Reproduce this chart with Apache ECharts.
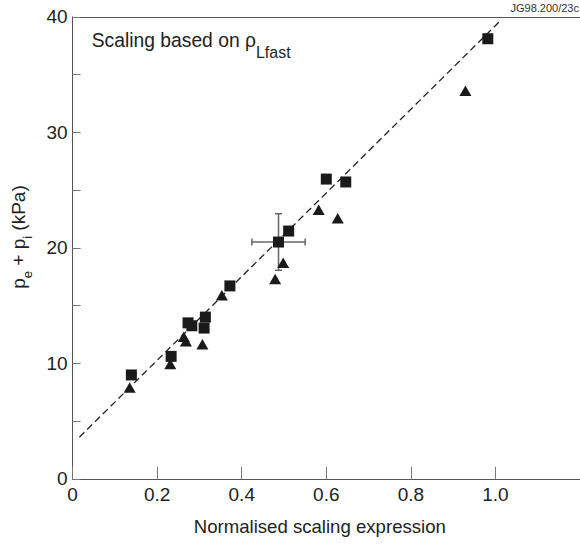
<!DOCTYPE html>
<html>
<head>
<meta charset="utf-8">
<script src="https://cdn.jsdelivr.net/npm/echarts@6/dist/echarts.min.js"></script>
<style>
html,body{margin:0;padding:0;background:#fff;}
#chart{width:580px;height:544px;}
</style>
</head>
<body>
<div id="chart"></div>
<script>
// ---- data ----
const squareX = [0.139, 0.233, 0.273, 0.282, 0.311, 0.314, 0.372, 0.487, 0.511, 0.600, 0.646, 0.982];
const squareY = [8.99, 10.6, 13.5, 13.25, 13.05, 14.0, 16.7, 20.5, 21.45, 25.95, 25.7, 38.1];
const triangleX = [0.135, 0.231, 0.263, 0.268, 0.307, 0.353, 0.479, 0.498, 0.582, 0.627, 0.929];
const triangleY = [7.9, 9.95, 12.3, 11.9, 11.65, 15.9, 17.3, 18.7, 23.3, 22.55, 33.6];
const fitX = [0.016, 1.01];
const fitY = [3.6, 39.6];
const errorX = [0.487];
const errorY = [20.5];
const errorDX = [0.063];
const errorDY = [2.45];
const xTickValues = [0, 0.2, 0.4, 0.6, 0.8, 1.0];
const yTickValues = [0, 5, 10, 15, 20, 25, 30, 35, 40];
const yLabelValues = [0, 10, 20, 30, 40];
const xTitle = 'Normalised scaling expression';
const annotation = 'Scaling based on ρ';
const annotationSub = 'Lfast';
const sourceTag = 'JG98.200/23c';

const FONT = '"Liberation Sans", Arial, Helvetica, sans-serif';
const zip = (a, b) => a.map((v, i) => [v, b[i]]);

const chart = echarts.init(document.getElementById('chart'), null, {renderer: 'svg'});

const option = {
  animation: false,
  backgroundColor: '#ffffff',
  textStyle: {fontFamily: FONT},
  grid: {left: 72.6, top: 16.8, right: -45.8, bottom: 65.2, containLabel: false},
  xAxis: [{
    type: 'value', min: 0, max: 1.2, position: 'bottom',
    axisLine: {show: true, onZero: false, lineStyle: {color: '#555', width: 1}},
    axisTick: {show: true, inside: true, length: 12, customValues: xTickValues, lineStyle: {color: '#777', width: 1}},
    axisLabel: {show: true, customValues: xTickValues, margin: 6, fontSize: 19, color: '#222', fontFamily: FONT,
      formatter: v => (v === 0 ? '0' : v.toFixed(1))},
    splitLine: {show: false},
    name: xTitle, nameLocation: 'middle', nameGap: 38,
    nameTextStyle: {fontSize: 18.6, color: '#222', fontFamily: FONT, padding: [0, 13, 0, 0]}
  }, {
    type: 'value', min: 0, max: 1.2, position: 'top',
    axisLine: {show: true, onZero: false, lineStyle: {color: '#555', width: 1}},
    axisTick: {show: false}, axisLabel: {show: false}, splitLine: {show: false}
  }],
  yAxis: {
    type: 'value', min: 0, max: 40,
    axisLine: {show: true, onZero: false, lineStyle: {color: '#555', width: 1}},
    axisTick: {show: true, inside: true, length: 8, customValues: yTickValues, lineStyle: {color: '#777', width: 1}},
    axisLabel: {show: true, customValues: yLabelValues, margin: 5, fontSize: 19, color: '#222', fontFamily: FONT},
    splitLine: {show: false}
  },
  graphic: [
    {
      type: 'text', x: 91.7, y: 31.3, z: 100,
      style: {
        text: '{m|' + annotation + '}{s|' + annotationSub + '}',
        align: 'left', verticalAlign: 'top', fill: '#222',
        rich: {
          m: {fontSize: 19.3, verticalAlign: 'top', fontFamily: FONT, fill: '#222'},
          s: {fontSize: 16, padding: [13, 0, 0, 0], verticalAlign: 'bottom', fontFamily: FONT, fill: '#222'}
        }
      }
    },
    {
      type: 'text', x: 21.5, y: 237, rotation: Math.PI / 2, z: 100,
      style: {
        text: '{m|p}{s|e}{m| + p}{s|i}{m| (kPa)}',
        align: 'center', verticalAlign: 'middle', fill: '#222',
        rich: {
          m: {fontSize: 19, verticalAlign: 'top', fontFamily: FONT, fill: '#222'},
          s: {fontSize: 13, padding: [12, 0, 0, 0], verticalAlign: 'bottom', fontFamily: FONT, fill: '#222'}
        }
      }
    },
    {
      type: 'text', x: 579, y: 8, z: 100,
      style: {text: sourceTag, align: 'right', verticalAlign: 'middle', fontSize: 11, fontFamily: FONT, fill: '#333'}
    }
  ],
  series: [
    {
      name: 'fit', type: 'line', data: zip(fitX, fitY), symbol: 'none', silent: true, z: 2,
      lineStyle: {color: '#222', width: 1.3, type: [7, 4]}
    },
    {
      name: 'error', type: 'custom', z: 3,
      data: errorX.map((x, i) => [x, errorY[i], errorDX[i], errorDY[i]]),
      encode: {x: 0, y: 1},
      renderItem: function (params, api) {
        const cx = api.value(0), cy = api.value(1), dx = api.value(2), dy = api.value(3);
        const l = api.coord([cx - dx, cy]), r = api.coord([cx + dx, cy]);
        const t = api.coord([cx, cy + dy]), b = api.coord([cx, cy - dy]);
        const cap = 3.5;
        const st = {stroke: '#666', lineWidth: 1.5};
        return {
          type: 'group', children: [
            {type: 'line', shape: {x1: l[0], y1: l[1], x2: r[0], y2: r[1]}, style: st},
            {type: 'line', shape: {x1: l[0], y1: l[1] - cap, x2: l[0], y2: l[1] + cap}, style: st},
            {type: 'line', shape: {x1: r[0], y1: r[1] - cap, x2: r[0], y2: r[1] + cap}, style: st},
            {type: 'line', shape: {x1: t[0], y1: t[1], x2: b[0], y2: b[1]}, style: st},
            {type: 'line', shape: {x1: t[0] - cap, y1: t[1], x2: t[0] + cap, y2: t[1]}, style: st},
            {type: 'line', shape: {x1: b[0] - cap, y1: b[1], x2: b[0] + cap, y2: b[1]}, style: st}
          ]
        };
      }
    },
    {
      name: 'triangles', type: 'scatter', data: zip(triangleX, triangleY), z: 4,
      symbol: 'triangle', symbolSize: [12, 10.5],
      itemStyle: {color: '#1a1a1a', opacity: 1}
    },
    {
      name: 'squares', type: 'scatter', data: zip(squareX, squareY), z: 5,
      symbol: 'rect', symbolSize: 11,
      itemStyle: {color: '#1a1a1a', opacity: 1}
    }
  ]
};
chart.setOption(option);
</script>
</body>
</html>
